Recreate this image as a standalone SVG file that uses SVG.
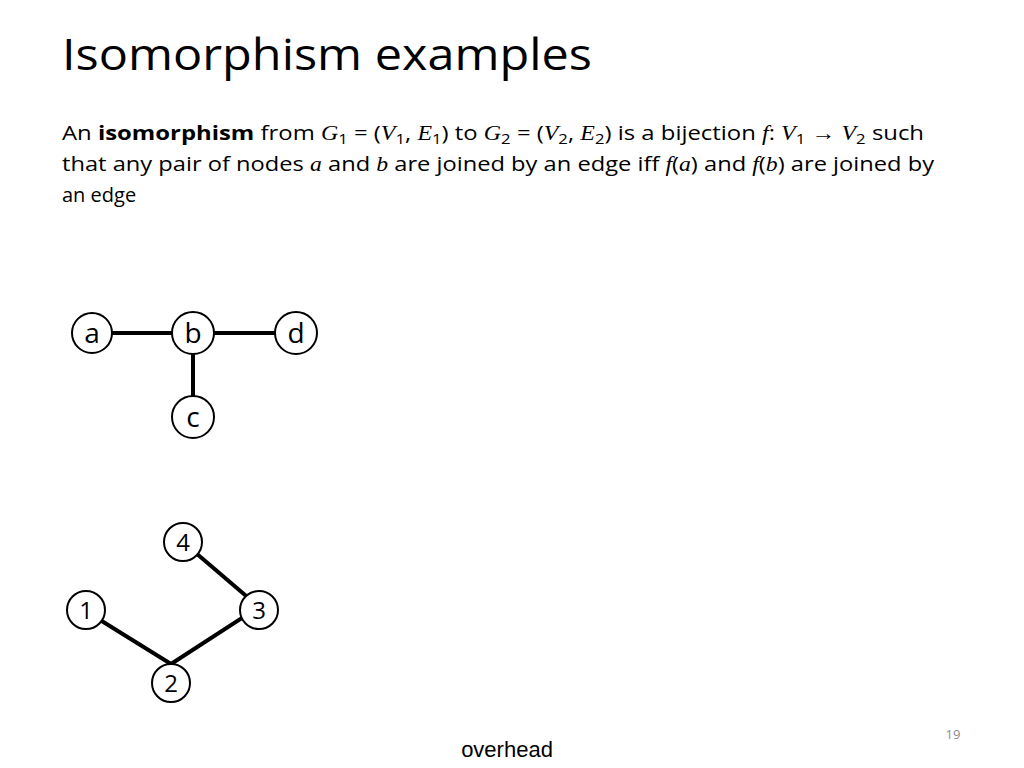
<svg xmlns="http://www.w3.org/2000/svg" width="1024" height="768" viewBox="0 0 1024 768">
<style>
.t{font-family:"Open Sans","Liberation Sans",sans-serif;fill:#000}
.m{font-family:"Liberation Serif",serif;font-style:italic}
.n circle{fill:#fff;stroke:#000;stroke-width:2}
.n text{font-family:"Open Sans","Liberation Sans",sans-serif;text-anchor:middle}
.e line{stroke:#000;stroke-width:4}
</style>
<rect width="1024" height="768" fill="#fff"/>
<text class="t" x="62" y="70" font-size="44" textLength="530" lengthAdjust="spacingAndGlyphs">Isomorphism examples</text>
<text class="t" x="62" y="140" font-size="20" textLength="862" lengthAdjust="spacingAndGlyphs">An  <tspan font-weight="bold">isomorphism</tspan> from <tspan class="m">G</tspan><tspan font-size="14" dy="4">1</tspan><tspan dy="-4"> = (</tspan><tspan class="m">V</tspan><tspan font-size="14" dy="4">1</tspan><tspan dy="-4">, </tspan><tspan class="m">E</tspan><tspan font-size="14" dy="4">1</tspan><tspan dy="-4">) to </tspan><tspan class="m">G</tspan><tspan font-size="14" dy="4">2</tspan><tspan dy="-4"> = (</tspan><tspan class="m">V</tspan><tspan font-size="14" dy="4">2</tspan><tspan dy="-4">, </tspan><tspan class="m">E</tspan><tspan font-size="14" dy="4">2</tspan><tspan dy="-4">) is a bijection </tspan><tspan class="m">f</tspan><tspan>: </tspan><tspan class="m">V</tspan><tspan font-size="14" dy="4">1</tspan><tspan dy="-4"> → </tspan><tspan class="m">V</tspan><tspan font-size="14" dy="4">2</tspan><tspan dy="-4"> such</tspan></text>
<text class="t" x="62" y="171" font-size="20" textLength="872" lengthAdjust="spacingAndGlyphs">that any pair of nodes <tspan class="m">a</tspan> and <tspan class="m">b</tspan> are joined by an edge iff <tspan class="m">f</tspan>(<tspan class="m">a</tspan>) and <tspan class="m">f</tspan>(<tspan class="m">b</tspan>) are joined by</text>
<text class="t" x="62" y="202" font-size="20">an edge</text>
<g class="e">
<line x1="92" y1="333" x2="296" y2="333"/>
<line x1="193" y1="333" x2="193" y2="417"/>
<line x1="84" y1="610" x2="171" y2="664"/>
<line x1="171" y1="664" x2="259" y2="607"/>
<line x1="183" y1="542" x2="259" y2="607"/>
</g>
<g class="n" font-size="28">
<g id="a"><circle cx="92" cy="333" r="20"/><text x="92" y="343">a</text></g>
<g id="b"><circle cx="193" cy="333" r="21"/><text x="193" y="343">b</text></g>
<g id="d"><circle cx="296" cy="333" r="21"/><text x="296" y="343">d</text></g>
<g id="c"><circle cx="193" cy="417" r="21"/><text x="193" y="427">c</text></g>
</g>
<g class="n" font-size="24">
<g id="n4"><circle cx="183" cy="542" r="19"/><text x="183" y="551">4</text></g>
<g id="n1"><circle cx="86" cy="610" r="19"/><text x="86" y="619">1</text></g>
<g id="n3"><circle cx="259" cy="610" r="19"/><text x="259" y="619">3</text></g>
<g id="n2"><circle cx="171" cy="683" r="19"/><text x="171" y="692">2</text></g>
</g>
<text class="t" x="953" y="739" font-size="13" fill="#888" style="fill:#8c8c8c" text-anchor="middle">19</text>
<text x="507" y="757" font-size="22" text-anchor="middle" font-family="Liberation Sans, Arial, sans-serif">overhead</text>
</svg>
